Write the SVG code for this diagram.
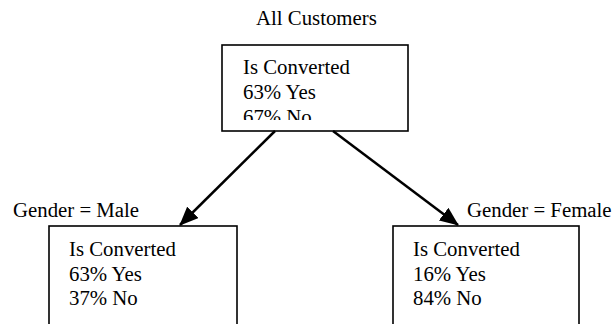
<svg xmlns="http://www.w3.org/2000/svg" width="612" height="324" viewBox="0 0 612 324">
<style>
text{font-family:"Liberation Serif","Times New Roman",serif;font-size:20.8px;fill:#000}
.box{fill:#fff;stroke:#000;stroke-width:1.6}
.conn{stroke:#000;stroke-width:2.5;fill:none}
</style>
<defs>
<marker id="ah" viewBox="0 0 19 16" refX="18" refY="8" markerWidth="19" markerHeight="16" markerUnits="userSpaceOnUse" orient="auto">
<path d="M0,0 L19,8 L0,16 z" fill="#000"/>
</marker>
<clipPath id="clipTop"><rect x="222" y="45" width="186" height="75"/></clipPath>
</defs>
<rect width="612" height="324" fill="#fff"/>
<g id="root">
<text x="256" y="25">All Customers</text>
<rect class="box" x="222" y="45" width="186" height="86"/>
<g clip-path="url(#clipTop)">
<text x="243" y="74">Is Converted</text>
<text x="243" y="99">63% Yes</text>
<text x="243" y="123.5">67% No</text>
</g>
</g>
<g id="male">
<text x="13" y="217">Gender = Male</text>
<rect class="box" x="49" y="226" width="188" height="110"/>
<text x="69" y="256">Is Converted</text>
<text x="69" y="281">63% Yes</text>
<text x="69" y="305">37% No</text>
</g>
<g id="female">
<text x="467" y="217">Gender = Female</text>
<rect class="box" x="393" y="226" width="186" height="110"/>
<text x="413" y="256">Is Converted</text>
<text x="413" y="281">16% Yes</text>
<text x="413" y="305">84% No</text>
</g>
<g id="connectors">
<line class="conn" x1="275" y1="131" x2="180" y2="225" marker-end="url(#ah)"/>
<line class="conn" x1="333" y1="131" x2="458" y2="225" marker-end="url(#ah)"/>
</g>
</svg>
